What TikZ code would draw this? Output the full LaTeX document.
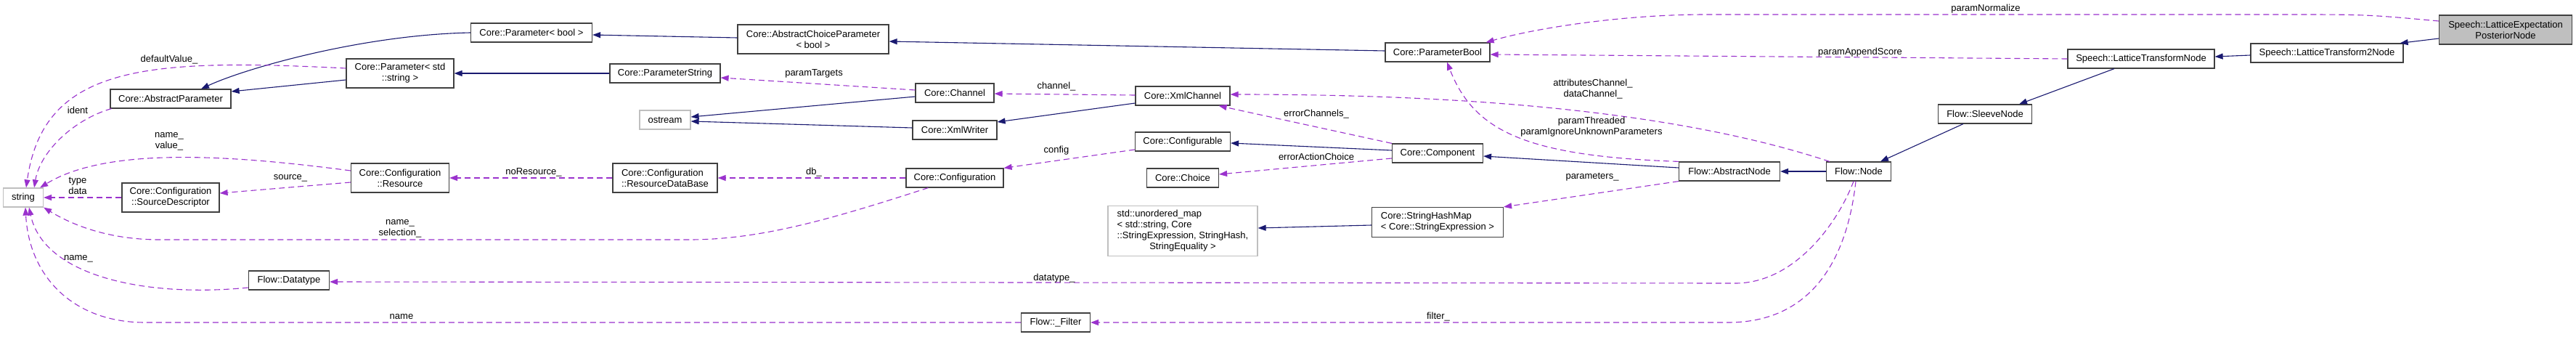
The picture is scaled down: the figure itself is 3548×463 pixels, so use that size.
\documentclass[tikz,border=0pt]{standalone}
\usepackage{fontspec}
\setmainfont{Liberation Sans}
\usetikzlibrary{arrows.meta,calc}

\definecolor{inhblue}{HTML}{191970}
\definecolor{usepurple}{HTML}{9A32CD}
\definecolor{extgray}{HTML}{BFBFBF}

\begin{document}
\begin{tikzpicture}[x=1pt,y=-1pt,font=\fontsize{13pt}{15pt}\selectfont]
  %----- styles
  \tikzset{
    cls/.style  ={draw=black!75,line width=1.2pt,fill=white,inner sep=0pt,minimum height=26pt,align=center},
    two/.style  ={minimum height=40pt},
    ext/.style  ={cls,draw=extgray},
    cur/.style  ={cls,fill=extgray},
    inh/.style  ={color=inhblue,line width=1.1pt,-{Triangle[length=11pt,width=8pt]}},
    usage/.style={color=usepurple,line width=1.1pt,dash pattern=on 8pt off 5pt,-{Triangle[length=11pt,width=8pt]}},
    lbl/.style  ={inner sep=0pt,align=center}
  }
  \fill[white] (0,0) rectangle (3548,463);
  \useasboundingbox (0,0) rectangle (3548,463);

  %----- nodes
  % left part
  \node[ext,minimum width=55pt]      (string)    at (32,272)  {string};
  \node[cls,minimum width=166pt]     (absparam)  at (235,136) {Core::AbstractParameter};
  \node[cls,two,minimum width=134pt] (srcdesc)   at (235,272) {Core::Configuration\\::SourceDescriptor};
  \node[cls,minimum width=111pt]     (datatype)  at (398,386) {Flow::Datatype};
  \node[cls,two,minimum width=148pt] (pstr)      at (551,101) {Core::Parameter< std\\::string >};
  \node[cls,two,minimum width=135pt] (resource)  at (551,245) {Core::Configuration\\::Resource};
  \node[cls,minimum width=167pt]     (pbool)     at (732,45)  {Core::Parameter< bool >};
  \node[cls,minimum width=152pt]     (pstring)   at (916,101) {Core::ParameterString};
  \node[ext,minimum width=70pt]      (ostream)   at (916,165) {ostream};
  \node[cls,two,minimum width=144pt,align=left] (resdb) at (916,245) {Core::Configuration\\::ResourceDataBase};
  % middle part
  \node[cls,two,minimum width=208pt] (acp)       at (1120,54) {Core::AbstractChoiceParameter\\< bool >};
  \node[cls,minimum width=108pt]     (channel)   at (1315,128) {Core::Channel};
  \node[cls,minimum width=116pt]     (xmlwriter) at (1315,179) {Core::XmlWriter};
  \node[cls,minimum width=134pt]     (configuration) at (1315,245) {Core::Configuration};
  \node[cls,minimum width=95pt]      (filter)    at (1454,444) {Flow::\_Filter};
  \node[cls,minimum width=130pt]     (xmlchannel) at (1629,132) {Core::XmlChannel};
  \node[cls,minimum width=131pt]     (configurable) at (1629,195) {Core::Configurable};
  \node[cls,minimum width=99pt]      (choice)    at (1629,245) {Core::Choice};
  \node[ext,minimum width=206pt,minimum height=69pt] (umap) at (1629,318)
    {\begin{tabular}{@{}l@{}}std::unordered\_map\\< std::string, Core\\::StringExpression, StringHash,\\\multicolumn{1}{@{}c@{}}{StringEquality >}\end{tabular}};
  \node[cls,minimum width=144pt]     (parambool) at (1980,72)  {Core::ParameterBool};
  \node[cls,minimum width=125pt]     (component) at (1980,211) {Core::Component};
  \node[cls,minimum width=181pt,minimum height=41pt,align=left] (shm) at (1980,306) {Core::StringHashMap\\< Core::StringExpression >};
  % right part
  \node[cls,minimum width=139pt]     (absnode)   at (2382,236) {Flow::AbstractNode};
  \node[cls,minimum width=89pt]      (flownode)  at (2560,236) {Flow::Node};
  \node[cls,minimum width=129pt]     (sleeve)    at (2734,157) {Flow::SleeveNode};
  \node[cls,minimum width=202pt]     (ltn)       at (2949,81)  {Speech::LatticeTransformNode};
  \node[cls,minimum width=210pt]     (lt2n)      at (3205,73)  {Speech::LatticeTransform2Node};
  \node[cur,two,minimum width=183pt] (lepn)      at (3451,41)  {Speech::LatticeExpectation\\PosteriorNode};

  %----- inheritance
  \draw[inh] (pbool.west) .. controls +(-150,3) and +(60,-28) .. ($(absparam.north)+(42,0)$);
  \draw[inh] ($(pstr.west)+(0,9)$) -- ($(absparam.east)+(0,-10)$);
  \draw[inh] (pstring.west) -- (pstr.east);
  \draw[inh] ($(acp.west)+(0,-2)$) -- ($(pbool.east)+(0,3)$);
  \draw[inh] ($(parambool.west)+(0,-2)$) -- ($(acp.east)+(0,3)$);
  \draw[inh] ($(channel.west)+(0,5)$) -- ($(ostream.east)+(0,-4)$);
  \draw[inh] ($(xmlwriter.west)+(0,-3)$) -- ($(ostream.east)+(0,2)$);
  \draw[inh] ($(xmlchannel.west)+(0,10)$) -- ($(xmlwriter.east)+(0,-11)$);
  \draw[inh] ($(component.west)+(0,-4)$) -- ($(configurable.east)+(0,2)$);
  \draw[inh] ($(absnode.west)+(0,-5)$) -- ($(component.east)+(0,4)$);
  \draw[inh] (flownode.west) -- (absnode.east);
  \draw[inh] ($(sleeve.south)+(-30,0)$) -- ($(flownode.north)+(30,0)$);
  \draw[inh] ($(ltn.south)+(-37,0)$) -- ($(sleeve.north)+(47,0)$);
  \draw[inh] ($(lt2n.west)+(0,3)$) -- ($(ltn.east)+(0,-3)$);
  \draw[inh] ($(lepn.west)+(0,12)$) -- ($(lt2n.north east)+(-5,0)$);
  \draw[inh] ($(shm.west)+(0,4)$) -- ($(umap.east)+(0,-4)$);

  %----- usage
  \draw[usage] ($(absparam.south west)+(2,0)$) .. controls (100,165) and (55,210) .. ($(string.north east)+(-13,0)$);
  \draw[usage] ($(pstr.west)+(0,-7)$) .. controls (200,80) and (60,90) .. ($(string.north)+(4,0)$);
  \draw[usage] ($(resource.west)+(0,-10)$) .. controls (330,215) and (150,200) .. ($(string.north east)+(-5,0)$);
  \draw[usage] (srcdesc.west) -- (string.east);
  \draw[usage] ($(resource.west)+(0,6)$) -- ($(srcdesc.east)+(0,-6)$);
  \draw[usage] ($(configuration.south west)+(31,0)$) .. controls (1150,300) and (1050,330) .. (950,330)
    -- (220,330) .. controls (150,330) and (100,310) .. (string.south east);
  \draw[usage] ($(datatype.west)+(0,10)$) .. controls (200,410) and (60,380) .. ($(string.south)+(8,0)$);
  \draw[usage] (filter.west) -- (200,444) .. controls (100,444) and (40,380) .. ($(string.south)+(3,0)$);
  \draw[usage] (resdb.west) -- (resource.east);
  \draw[usage] (configuration.west) -- (resdb.east);
  \draw[usage] ($(channel.west)+(0,-4)$) -- ($(pstring.east)+(0,6)$);
  \draw[usage] ($(xmlchannel.west)+(0,-1)$) -- ($(channel.east)+(0,1)$);
  \draw[usage] ($(configurable.west)+(0,11)$) -- (configuration.north east);
  \draw[usage] (component.north west) -- ($(xmlchannel.south east)+(-16,0)$);
  \draw[usage] ($(component.west)+(0,7)$) -- ($(choice.east)+(0,-5)$);
  \draw[usage] ($(flownode.north west)+(5,0)$) .. controls (2300,150) and (2000,130) .. ($(xmlchannel.east)+(0,-2)$);
  \draw[usage] (absnode.north west) .. controls (2100,215) and (2030,180) .. ($(parambool.south)+(13,0)$);
  \draw[usage] (absnode.south west) -- (shm.north east);
  \draw[usage] ($(flownode.south)+(-7,0)$) .. controls (2530,310) and (2470,390) .. (2390,390) -- ($(datatype.east)+(0,2)$);
  \draw[usage] ($(flownode.south)+(-4,0)$) .. controls (2545,350) and (2500,444) .. (2380,444) -- (filter.east);
  \draw[usage] (ltn.west) -- ($(parambool.east)+(0,3)$);
  \draw[usage] ($(lepn.west)+(0,-12)$) .. controls (3260,20) .. (3150,20) -- (2350,20)
    .. controls (2230,20) and (2110,40) .. ($(parambool.north east)+(-6,0)$);

  %----- labels
  \node[lbl] (l-ident)    at (107,152)  {ident};
  \node[lbl] (l-default)  at (233,82)   {defaultValue\_};
  \node[lbl] (l-namevalue) at (233,195) {name\_\\value\_};
  \node[lbl] (l-typedata) at (107,256)  {type\\data};
  \node[lbl] (l-source)   at (400,245)  {source\_};
  \node[lbl] (l-namesel)  at (551,315)  {name\_\\selection\_};
  \node[lbl] (l-dtname)   at (108,356)  {name\_};
  \node[lbl] (l-fname)    at (553,436)  {name};
  \node[lbl] (l-nores)    at (735,237)  {noResource\_};
  \node[lbl] (l-db)       at (1121,237) {db\_};
  \node[lbl] (l-targets)  at (1121,101) {paramTargets};
  \node[lbl] (l-channel)  at (1455,119) {channel\_};
  \node[lbl] (l-config)   at (1455,207) {config};
  \node[lbl] (l-datatype) at (1452,383) {datatype\_};
  \node[lbl] (l-errch)    at (1813,157) {errorChannels\_};
  \node[lbl] (l-erract)   at (1813,216) {errorActionChoice};
  \node[lbl] (l-filter)   at (1981,436) {filter\_};
  \node[lbl] (l-attr)     at (2194,123) {attributesChannel\_\\dataChannel\_};
  \node[lbl] (l-thread)   at (2192,175) {paramThreaded\\paramIgnoreUnknownParameters};
  \node[lbl] (l-params)   at (2193,244) {parameters\_};
  \node[lbl] (l-append)   at (2562,72)  {paramAppendScore};
  \node[lbl] (l-norm)     at (2735,12)  {paramNormalize};
\end{tikzpicture}
\end{document}
